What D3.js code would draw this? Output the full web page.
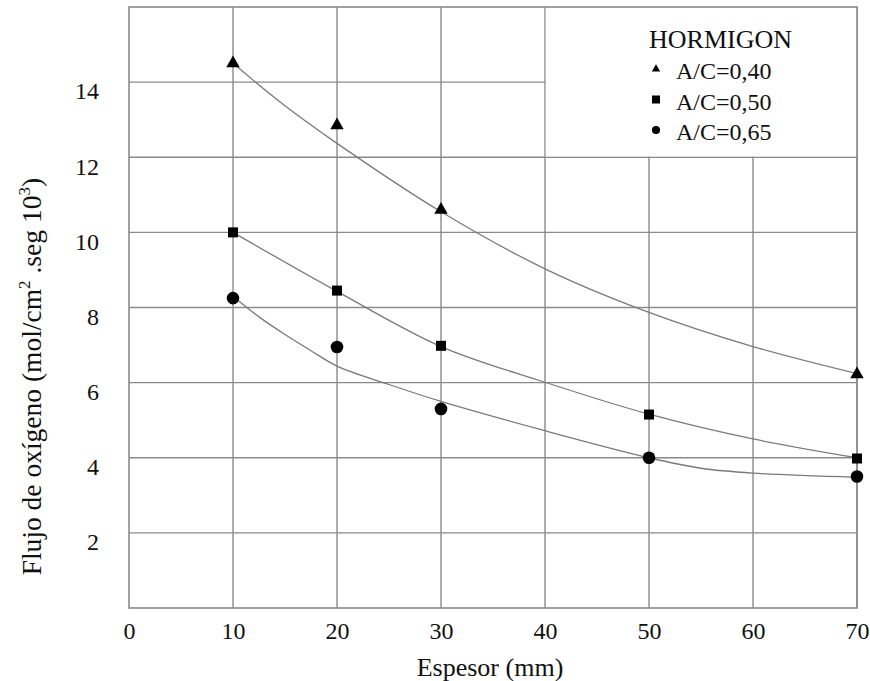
<!DOCTYPE html>
<html>
<head>
<meta charset="utf-8">
<script src="https://cdn.jsdelivr.net/npm/d3@7"></script>
<style>
  body { margin: 0; background: #fff; }
  text { font-family: "Liberation Serif", "Times New Roman", serif; fill: #111; }
</style>
</head>
<body>
<div id="plot"></div>
<script>
var margin = {top: 7, right: 13, bottom: 73, left: 129}
  , width = 870 - margin.left - margin.right
  , height = 681 - margin.top - margin.bottom;

// measured points (Espesor in mm)
var espesor = [10, 20, 30, 50, 70];
var ac40 = [14.5, 12.85, 10.6, null, 6.22];
var ac50 = [10.0, 8.45, 6.98, 5.15, 3.98];
var ac65 = [8.25, 6.95, 5.3, 4.0, 3.5];

// fitted curves
var fit40x = [10, 15, 20, 30, 40, 50, 60, 70];
var fit40y = [14.5, 13.37, 12.37, 10.55, 9.03, 7.87, 6.96, 6.24];
var fit50x = [10, 20, 30, 40, 50, 60, 70];
var fit50y = [10.0, 8.43, 6.96, 6.01, 5.16, 4.5, 4.0];
var fit65x = [10, 12.5, 15, 17.5, 20, 25, 30, 40, 50, 55, 60, 70];
var fit65y = [8.3, 7.75, 7.28, 6.85, 6.44, 5.95, 5.5, 4.72, 4.0, 3.72, 3.59, 3.48];

var xTicks = [0, 10, 20, 30, 40, 50, 60, 70];
var yTicks = [2, 4, 6, 8, 10, 12, 14];
var legendTitle = "HORMIGON";
var legendLabels = ["A/C=0,40", "A/C=0,50", "A/C=0,65"];

var xScale = d3.scaleLinear().domain([0, 70]).range([0, width]);
var yScale = d3.scaleLinear().domain([0, 16]).range([height, 0]);

var svg = d3.select("#plot")
  .append("svg")
    .attr("width", 870)
    .attr("height", 681)
  .append("g")
    .attr("transform", "translate(" + margin.left + "," + margin.top + ")");

var gridColor = "#8a8a8a";

// grid
svg.selectAll(".vgrid")
  .data(xTicks.slice(1))
  .enter().append("line")
    .attr("x1", d => xScale(d)).attr("x2", d => xScale(d))
    .attr("y1", 0).attr("y2", height)
    .attr("stroke", gridColor).attr("stroke-width", 1.4);

svg.selectAll(".hgrid")
  .data(yTicks)
  .enter().append("line")
    .attr("x1", 0).attr("x2", width)
    .attr("y1", d => yScale(d)).attr("y2", d => yScale(d))
    .attr("stroke", gridColor).attr("stroke-width", 1.4);

// legend background hides the grid in the upper right
svg.append("rect")
  .attr("x", xScale(40) + 0.8)
  .attr("y", 0)
  .attr("width", xScale(70) - xScale(40) - 0.8)
  .attr("height", yScale(12) - 0.8)
  .attr("fill", "#fff");

// frame
svg.append("rect")
  .attr("width", width).attr("height", height)
  .attr("fill", "none")
  .attr("stroke", gridColor).attr("stroke-width", 1.6);

// axes (labels only)
var xAxis = svg.append("g")
  .attr("transform", "translate(0," + height + ")")
  .call(d3.axisBottom(xScale).tickValues(xTicks).tickSize(0).tickPadding(14).tickFormat(d3.format("d")));
var yAxis = svg.append("g")
  .call(d3.axisLeft(yScale).tickValues(yTicks).tickSize(0).tickPadding(30).tickFormat(d3.format("d")));
[xAxis, yAxis].forEach(a => {
  a.select(".domain").remove();
  a.selectAll("text")
    .attr("font-family", "Liberation Serif, serif")
    .attr("font-size", 24)
    .attr("fill", "#111");
});
yAxis.selectAll("text").attr("dy", "0.7em");

// curves
var line = d3.line()
  .x(d => xScale(d[0]))
  .y(d => yScale(d[1]))
  .curve(d3.curveCatmullRom.alpha(0.5));

[[fit40x, fit40y], [fit50x, fit50y], [fit65x, fit65y]].forEach(f => {
  svg.append("path")
    .datum(f[0].map((x, i) => [x, f[1][i]]))
    .attr("d", line)
    .attr("fill", "none")
    .attr("stroke", "#7a7a7a")
    .attr("stroke-width", 1.3);
});

// markers
var series = [
  {vals: ac40, type: d3.symbolTriangle, size: 78, lsize: 30},
  {vals: ac50, type: d3.symbolSquare, size: 100, lsize: 64},
  {vals: ac65, type: d3.symbolCircle, size: 125, lsize: 52}
];

series.forEach(s => {
  svg.selectAll(null)
    .data(espesor.map((x, i) => [x, s.vals[i]]).filter(d => d[1] != null))
    .enter().append("path")
      .attr("transform", d => "translate(" + xScale(d[0]) + "," + yScale(d[1]) + ")")
      .attr("d", d3.symbol().type(s.type).size(s.size))
      .attr("fill", "#000");
});

// legend
var lg = svg.append("g").attr("transform", "translate(" + xScale(50) + ",0)");
lg.append("text")
  .attr("x", 0).attr("y", 41)
  .attr("font-size", 26)
  .text(legendTitle);
legendLabels.forEach((t, i) => {
  var yy = 72 + i * 30.5;
  lg.append("path")
    .attr("transform", "translate(7," + (yy - 10) + ")")
    .attr("d", d3.symbol().type(series[i].type).size(series[i].lsize))
    .attr("fill", "#000");
  lg.append("text")
    .attr("x", 27).attr("y", yy)
    .attr("font-size", 24)
    .text(t);
});

// axis titles
svg.append("text")
  .attr("x", width / 2 - 3)
  .attr("y", height + 68)
  .attr("text-anchor", "middle")
  .attr("font-size", 26)
  .text("Espesor (mm)");

var yl = svg.append("text")
  .attr("transform", "translate(" + (-88) + "," + (yScale(6) - 6) + ") rotate(-90)")
  .attr("text-anchor", "middle")
  .attr("font-size", 27.5);
yl.append("tspan").text("Flujo de oxígeno (mol/cm");
yl.append("tspan").attr("font-size", 17).attr("dy", -11).text("2");
yl.append("tspan").attr("dy", 11).text(" .seg 10");
yl.append("tspan").attr("font-size", 17).attr("dy", -11).text("3");
yl.append("tspan").attr("dy", 11).text(")");
</script>
</body>
</html>
